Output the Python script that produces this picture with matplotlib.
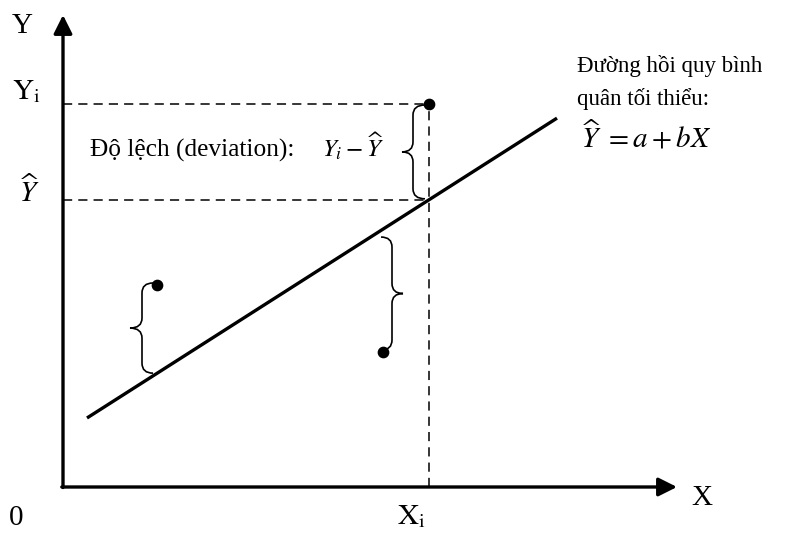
import matplotlib
matplotlib.use("Agg")
import matplotlib.pyplot as plt
from matplotlib.path import Path
from matplotlib.patches import PathPatch
import numpy as np

plt.rcParams['font.family'] = ['Liberation Serif', 'DejaVu Serif']
plt.rcParams['mathtext.fontset'] = 'stix'

# ---- data (diagram coordinates, origin at axis origin) ----
line_a = 5.37          # intercept of regression line
line_b = 0.638         # slope of regression line
line_x = [2.4, 49.4]   # extent of drawn regression line
pts_x = [36.6, 9.4, 32.0]
pts_y = [38.3, 20.2, 13.5]
xi_index = 0           # the point labelled X_i / Y_i
x_axis_end = 61.4
y_axis_end = 47.2

labels_axis = {"Y": "Y", "X": "X", "O": "0"}
text_dev = "Độ lệch (deviation):"
math_dev = "$Y_i - \\widehat{Y}$"
text_reg1 = "Đường hồi quy bình"
text_reg2 = "quân tối thiểu:"
text_eq = "$\\widehat{Y}\\ = a + bX$"

fig = plt.figure(figsize=(7.87, 5.33), dpi=100)
ax = fig.add_axes([0, 0, 1, 1])
ax.set_xlim(-6.3, 72.4)
ax.set_ylim(-4.6, 48.7)
ax.axis('off')

def yhat(x):
    return line_a + line_b * np.asarray(x)

# axes with arrows
ax.annotate("", xy=(0, y_axis_end), xytext=(0, -0.05),
            arrowprops=dict(arrowstyle='-|>', lw=2.4, color='black',
                            mutation_scale=28, shrinkA=0, shrinkB=0))
ax.annotate("", xy=(x_axis_end, 0), xytext=(-0.12, 0),
            arrowprops=dict(arrowstyle='-|>', lw=2.4, color='black',
                            mutation_scale=28, shrinkA=0, shrinkB=0))

# regression line
lx = np.array(line_x)
ax.plot(lx, yhat(lx), color='black', lw=2.4, solid_capstyle='butt')

# dashed guides for X_i
xi, yi = pts_x[xi_index], pts_y[xi_index]
dash = dict(color='black', lw=1.1, linestyle=(0, (6, 4)))
ax.plot([0, xi], [yi, yi], **dash)
ax.plot([0, xi], [yhat(xi), yhat(xi)], **dash)
ax.plot([xi, xi], [0, yi], **dash)

# points
ax.scatter(pts_x, pts_y, s=55, color='black', zorder=5)

def brace(x, y0, y1, tip, end):
    """vertical curly brace at x from y0 (bottom) to y1 (top)."""
    ym = (y0 + y1) / 2
    r = 1.0
    verts = [(x + end, y1), (x, y1), (x, y1 - r),
             (x, ym + r), (x, ym), (x + tip, ym),
             (x, ym), (x, ym - r),
             (x, y0 + r), (x, y0), (x + end, y0)]
    codes = [Path.MOVETO, Path.CURVE3, Path.CURVE3,
             Path.LINETO, Path.CURVE3, Path.CURVE3,
             Path.CURVE3, Path.CURVE3,
             Path.LINETO, Path.CURVE3, Path.CURVE3]
    ax.add_patch(PathPatch(Path(verts, codes), fill=False, lw=1.2, color='black'))

# braces: point 0 and 1 open left "{", point 2 "}"
brace(pts_x[0] - 1.6, yhat(pts_x[0]) + 0.1, pts_y[0] - 0.1, -1.1, 1.2)
brace(pts_x[1] - 1.5, yhat(pts_x[1] - 0.6) + 0.4, pts_y[1] + 0.2, -1.2, 1.1)
brace(pts_x[2] + 0.9, pts_y[2] + 0.2, yhat(pts_x[2] - 0.3) - 0.6, 1.1, -1.1)

# texts
big = 21
tk = dict(fontsize=big, ha='left', va='baseline')
ax.text(-5.1, 45.4, labels_axis["Y"], **tk)
ax.text(-5.1, 38.8, r"$\mathrm{Y}_\mathrm{i}$", **tk)
ax.text(-4.4, 28.5, r"$\widehat{Y}$", **tk)
ax.text(-5.4, -3.8, labels_axis["O"], **tk)
ax.text(xi - 3.2, -3.7, r"$\mathrm{X}_\mathrm{i}$", **tk)
ax.text(62.8, -1.8, labels_axis["X"], **tk)

ax.text(2.7, 33.0, text_dev, fontsize=18.3, ha='left', va='baseline')
ax.text(25.9, 33.0, math_dev, fontsize=18, ha='left', va='baseline')
ax.text(51.4, 41.5, text_reg1, fontsize=16.5, ha='left', va='baseline')
ax.text(51.4, 38.2, text_reg2, fontsize=16.5, ha='left', va='baseline')
ax.text(51.8, 34.0, text_eq, fontsize=21, ha='left', va='baseline')

fig.savefig("out.png", dpi=100)
